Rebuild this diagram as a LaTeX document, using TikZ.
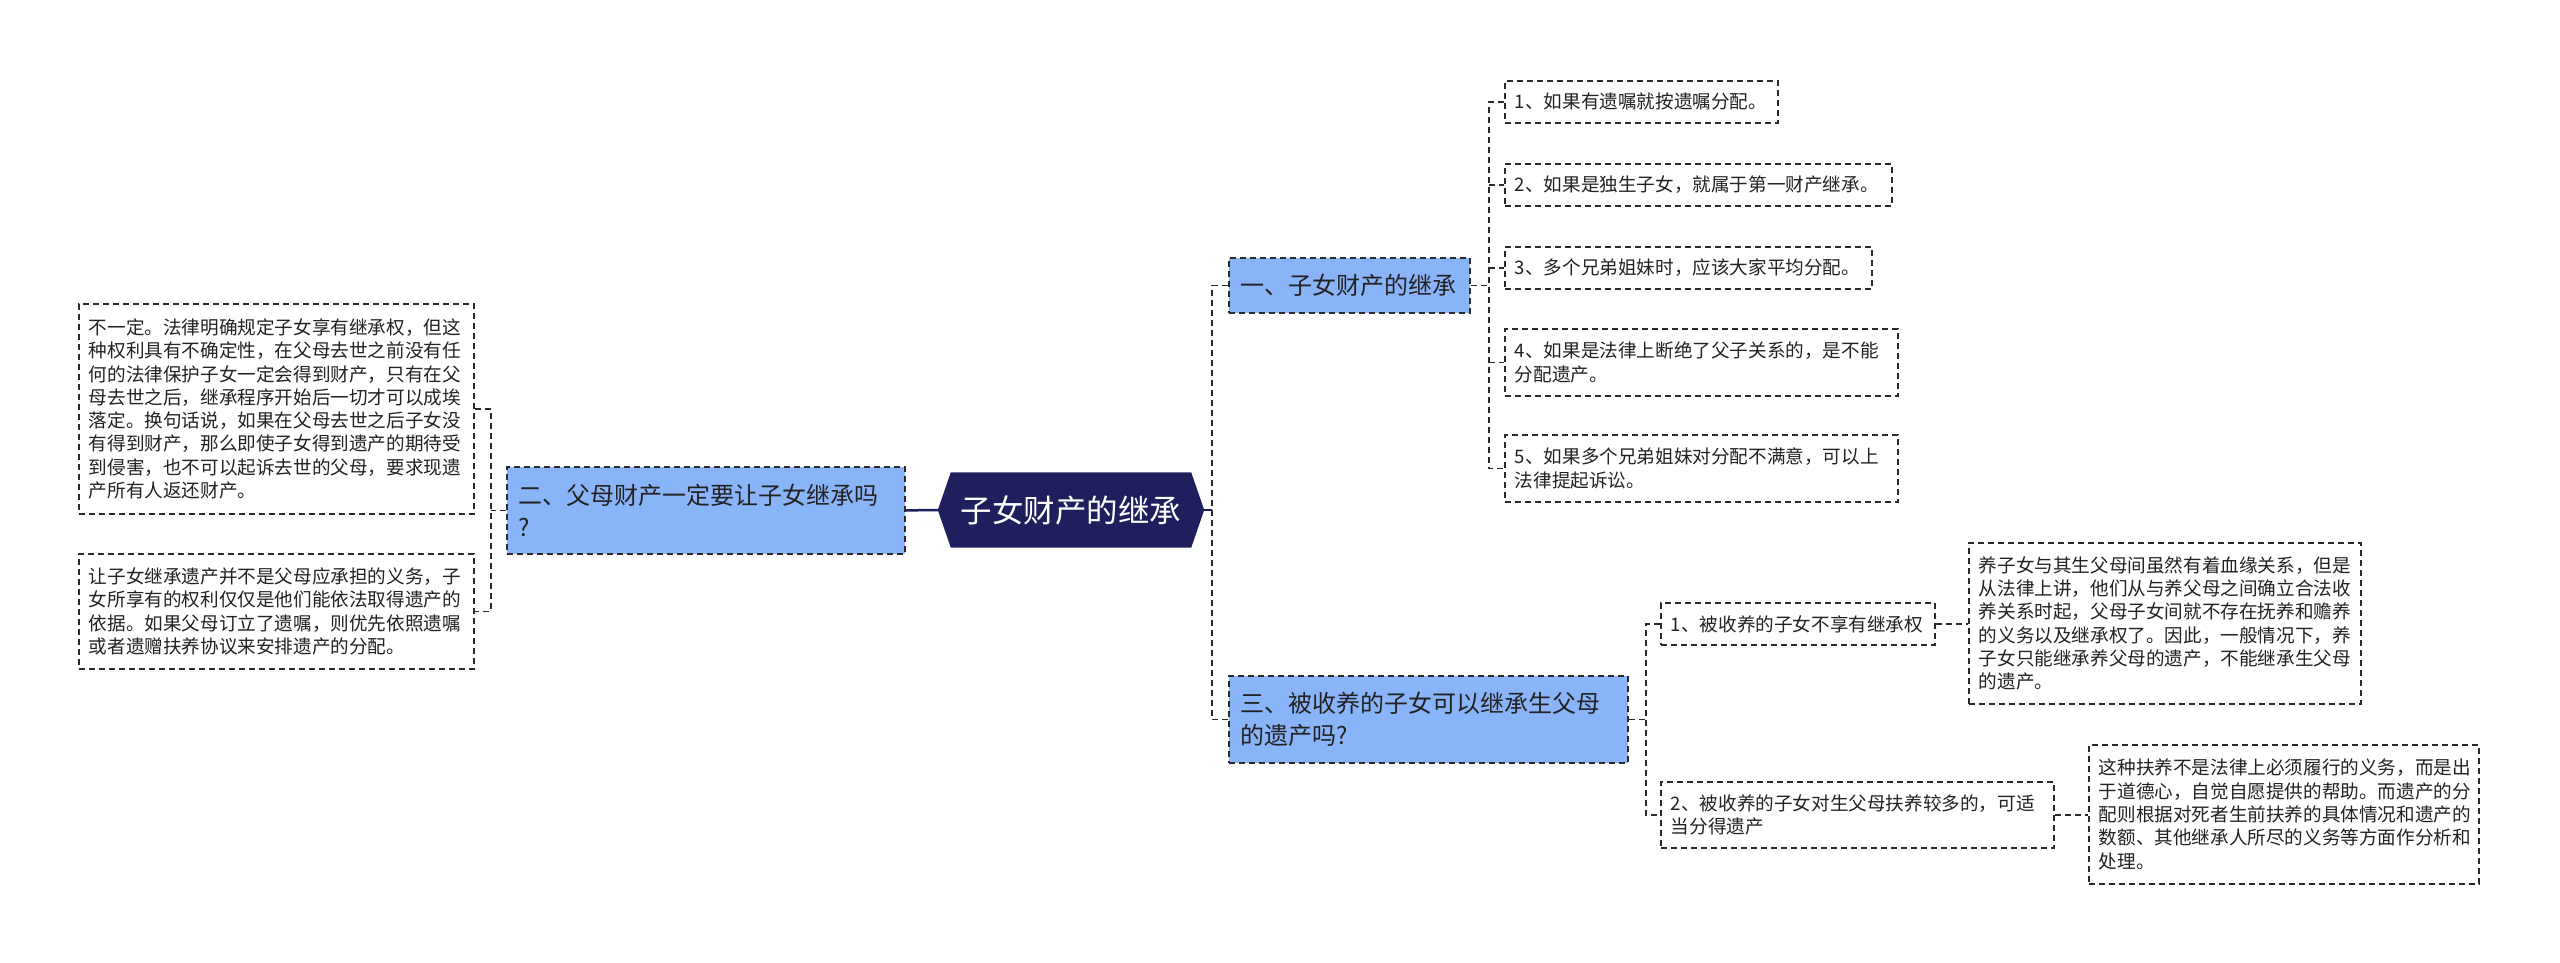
\documentclass[tikz,border=0pt]{standalone}
\usepackage{fontspec}
\newfontfamily\cjk{Noto Sans CJK SC}
\usetikzlibrary{calc,backgrounds}
\definecolor{rootc}{HTML}{1E1F5C}
\definecolor{blu}{HTML}{8AB4F8}
\definecolor{bd}{HTML}{2A2A2A}
\definecolor{txt}{HTML}{222222}
\begin{document}
\begin{tikzpicture}[x=1pt,y=-1pt,
  bx/.style={draw=bd, line width=1.8pt, dash pattern=on 6pt off 4pt, fill=white,
    anchor=north west, align=left, inner xsep=10pt, inner ysep=0pt, text=txt,
    font=\cjk\fontsize{18.6pt}{23.3pt}\selectfont},
  lone/.style={bx, fill=blu, inner xsep=12pt, font=\cjk\fontsize{24pt}{32pt}\selectfont},
  conn/.style={draw=bd, line width=1.8pt, dash pattern=on 6pt off 4pt},
  rootline/.style={draw=rootc, line width=2.5pt}]
\useasboundingbox (0,0) rectangle (2560,963);

% root
\node[minimum width=266pt, minimum height=75pt, inner sep=0pt, text=white,
  font=\cjk\fontsize{31.5pt}{36pt}\selectfont] (root) at (1071,510) {子女财产的继承};

% left side
\node[lone, minimum width=398pt, text width=374pt, minimum height=87pt] (L2) at (506,466)
  {二、父母财产一定要让子女继承吗\\?};
\node[bx, minimum width=395pt, text width=375pt, minimum height=210pt] (la) at (78,303)
  {不一定。法律明确规定子女享有继承权，但这\\种权利具有不确定性，在父母去世之前没有任\\何的法律保护子女一定会得到财产，只有在父\\母去世之后，继承程序开始后一切才可以成埃\\落定。换句话说，如果在父母去世之后子女没\\有得到财产，那么即使子女得到遗产的期待受\\到侵害，也不可以起诉去世的父母，要求现遗\\产所有人返还财产。};
\node[bx, minimum width=395pt, text width=375pt, minimum height=115pt] (lb) at (78,553)
  {让子女继承遗产并不是父母应承担的义务，子\\女所享有的权利仅仅是他们能依法取得遗产的\\依据。如果父母订立了遗嘱，则优先依照遗嘱\\或者遗赠扶养协议来安排遗产的分配。};

% right side, branch one
\node[lone, minimum width=241pt, text width=217pt, minimum height=55pt] (L1a) at (1228,257)
  {一、子女财产的继承};
\node[bx, minimum width=273pt, text width=253pt, minimum height=42pt] (a1) at (1504,80)
  {1、如果有遗嘱就按遗嘱分配。};
\node[bx, minimum width=387pt, text width=367pt, minimum height=42pt] (a2) at (1504,163)
  {2、如果是独生子女，就属于第一财产继承。};
\node[bx, minimum width=367pt, text width=347pt, minimum height=42pt] (a3) at (1504,246)
  {3、多个兄弟姐妹时，应该大家平均分配。};
\node[bx, minimum width=393pt, text width=373pt, minimum height=67pt] (a4) at (1504,328)
  {4、如果是法律上断绝了父子关系的，是不能\\分配遗产。};
\node[bx, minimum width=393pt, text width=373pt, minimum height=67pt] (a5) at (1504,434)
  {5、如果多个兄弟姐妹对分配不满意，可以上\\法律提起诉讼。};

% right side, branch three
\node[lone, minimum width=399pt, text width=375pt, minimum height=87pt] (L1b) at (1228,675)
  {三、被收养的子女可以继承生父母\\的遗产吗?};
\node[bx, minimum width=274pt, text width=254pt, minimum height=42pt] (b1) at (1660,602)
  {1、被收养的子女不享有继承权};
\node[bx, minimum width=393pt, text width=373pt, minimum height=66pt] (b2) at (1660,781)
  {2、被收养的子女对生父母扶养较多的，可适\\当分得遗产};
\node[bx, minimum width=392pt, text width=372pt, minimum height=161pt] (b1d) at (1968,542)
  {养子女与其生父母间虽然有着血缘关系，但是\\从法律上讲，他们从与养父母之间确立合法收\\养关系时起，父母子女间就不存在抚养和赡养\\的义务以及继承权了。因此，一般情况下，养\\子女只能继承养父母的遗产，不能继承生父母\\的遗产。};
\node[bx, minimum width=390pt, text width=370pt, minimum height=139pt] (b2d) at (2088,744)
  {这种扶养不是法律上必须履行的义务，而是出\\于道德心，自觉自愿提供的帮助。而遗产的分\\配则根据对死者生前扶养的具体情况和遗产的\\数额、其他继承人所尽的义务等方面作分析和\\处理。};

% connectors
\coordinate (lbr) at ([xshift=16pt]la.east);
\coordinate (rbr) at ([xshift=8pt]root.east);
\coordinate (r1) at ([xshift=18pt]L1a.east);
\coordinate (r2) at ([xshift=17pt]L1b.east);

\draw[rootline] (root.west) -- (L2.east);
\draw[conn] (L2.west) -- (lbr |- L2.west);
\draw[conn] (la.east) -| (lbr |- lb.east) -- (lb.east);

\draw[rootline] (root.east) -- (rbr);
\draw[conn] (L1a.west) -| (rbr |- L1b.west) -- (L1b.west);

\draw[conn] (L1a.east) -- (r1);
\draw[conn] (a1.west) -| (r1 |- a5.west) -- (a5.west);
\draw[conn] (r1 |- a2.west) -- (a2.west);
\draw[conn] (r1 |- a3.west) -- (a3.west);
\draw[conn] (r1 |- a4.west) -- (a4.west);

\draw[conn] (L1b.east) -- (r2);
\draw[conn] (b1.west) -| (r2 |- b2.west) -- (b2.west);
\draw[conn] (b1.east) -- (b1.east -| b1d.west);
\draw[conn] (b2.east) -- (b2.east -| b2d.west);

\begin{scope}[on background layer]
  \fill[white] (0,0) rectangle (2560,963);
  \fill[rootc] (root.west) -- ($(root.north west)+(13,0)$) -- ($(root.north east)+(-13,0)$)
    -- (root.east) -- ($(root.south east)+(-13,0)$) -- ($(root.south west)+(13,0)$) -- cycle;
\end{scope}
\end{tikzpicture}
\end{document}
